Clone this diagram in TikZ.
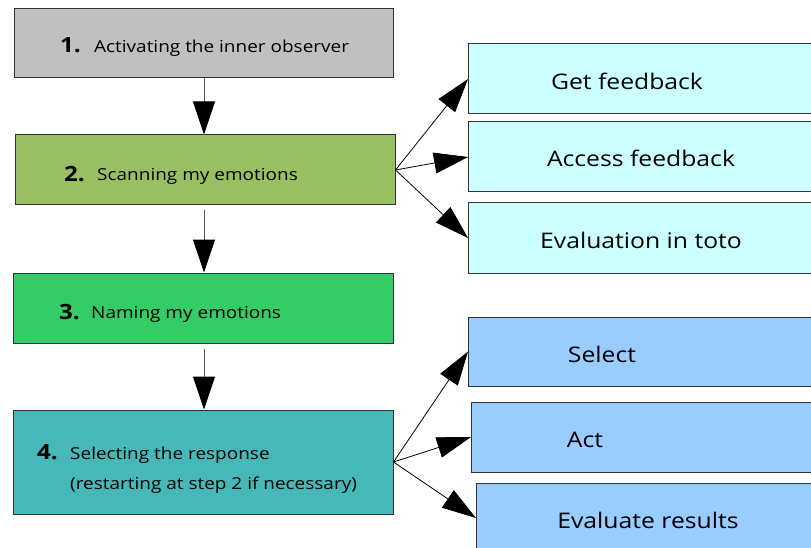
\documentclass[tikz,border=0pt]{standalone}
\usepackage{fontspec}
\setmainfont{Open Sans}[FakeStretch=1.15]
\usetikzlibrary{arrows.meta}

\definecolor{stepgray}{HTML}{C0C0C0}
\definecolor{steplime}{HTML}{99BF62}
\definecolor{stepgreen}{HTML}{33CC66}
\definecolor{stepteal}{HTML}{47B8B8}
\definecolor{fbcyan}{HTML}{CCFFFF}
\definecolor{actblue}{HTML}{99CCFF}

\tikzset{
  box/.style={draw=black!80, line width=1pt, rectangle, inner sep=0pt},
  stepbox/.style={box, minimum width=380pt, minimum height=70pt},
  sidebox/.style={box, anchor=west, minimum width=370pt, minimum height=70pt},
  steptext/.style={anchor=base west, inner sep=0pt, align=left,
    font=\fontsize{16.5}{30}\selectfont},
  stepnum/.style={anchor=base west, inner sep=0pt,
    font=\fontsize{21}{24}\selectfont\bfseries},
  sidetext/.style={anchor=base, inner sep=0pt, font=\fontsize{21.5}{25}\selectfont},
  flow/.style={draw=black!65, line width=1pt,
    -{Triangle[length=33pt, width=22pt, color=black]}},
  branch/.style={draw=black, line width=0.8pt,
    -{Triangle[length=34pt, width=21pt]}}
}

\begin{document}
\begin{tikzpicture}[x=1pt, y=-1pt]
  \clip (0,0) rectangle (811,548);
  \fill[white] (0,0) rectangle (811,548);
  \coordinate (axis) at (204,0);

  % main steps
  \node[stepbox, fill=stepgray, minimum width=379pt, minimum height=69pt] (s1) at (203.5,43.5) {};
  \node[stepbox, fill=steplime] (s2) at (205,170) {};
  \node[stepbox, fill=stepgreen] (s3) at (203,308) {};
  \node[stepbox, fill=stepteal, minimum height=104pt] (s4) at (203,462) {};

  \node[stepnum] (n1) at (60,53) {1.};
  \node[steptext] (t1) at (94,53) {Activating the inner observer};
  \node[stepnum] (n2) at (64,182) {2.};
  \node[steptext] (t2) at (97,181) {Scanning my emotions};
  \node[stepnum] (n3) at (59,319) {3.};
  \node[steptext] (t3) at (91,318) {Naming my emotions};
  \node[stepnum] (n4) at (37,459) {4.};
  % two-line label: the base anchor sits on its last line
  \node[steptext] (t4) at (70,489) {Selecting the response\\(restarting at step 2 if necessary)};

  % feedback boxes
  \node[sidebox, fill=fbcyan] (f1) at (468,79) {};
  \node[sidebox, fill=fbcyan] (f2) at (468,157) {};
  \node[sidebox, fill=fbcyan] (f3) at (468,238) {};
  \node[sidetext] (ft1) at (627,90) {Get feedback};
  \node[sidetext] (ft2) at (641,167) {Access feedback};
  \node[sidetext] (ft3) at (641,248) {Evaluation in toto};

  % response boxes
  \node[sidebox, fill=actblue, minimum height=69pt] (a1) at (468,351.5) {};
  \node[sidebox, fill=actblue] (a2) at (471,437) {};
  \node[sidebox, fill=actblue] (a3) at (476,518) {};
  \node[sidetext] (at1) at (602,362) {Select};
  \node[sidetext] (at2) at (585,447) {Act};
  \node[sidetext] (at3) at (648,528) {Evaluate results};

  % vertical flow
  \draw[flow] (s1.south -| axis) -- (s2.north -| axis);
  \draw[flow, shorten <=5pt] (s2.south -| axis) -- (s3.north -| axis);
  \draw[flow, shorten <=5pt] (s3.south -| axis) -- (s4.north -| axis);

  % branches
  \draw[branch] (s2.east) -- (f1.west);
  \draw[branch] (s2.east) -- (f2.west);
  \draw[branch] (s2.east) -- (f3.west);
  \draw[branch] (s4.east) -- (a1.west);
  \draw[branch] (s4.east) -- (a2.west);
  \draw[branch] (s4.east) -- (a3.west);
\end{tikzpicture}
\end{document}
